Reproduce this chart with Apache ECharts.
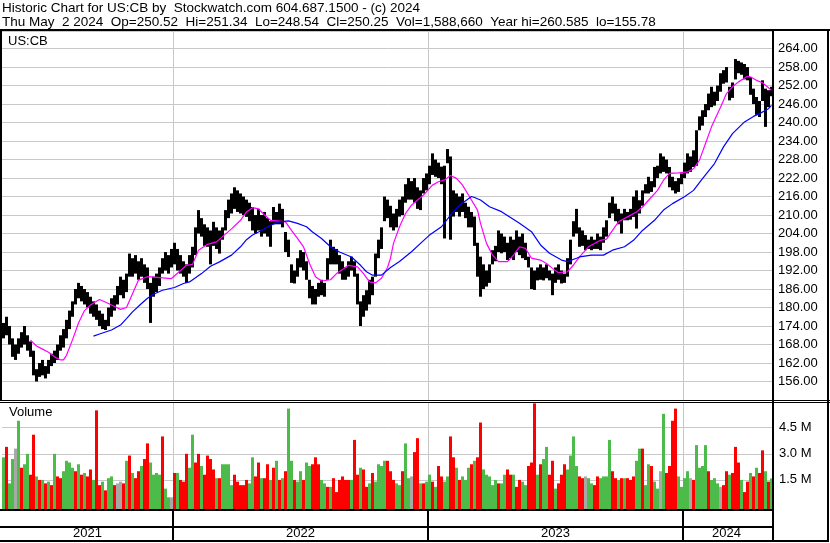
<!DOCTYPE html>
<html><head><meta charset="utf-8">
<script src="https://cdn.jsdelivr.net/npm/echarts@6/dist/echarts.min.js"></script>
<style>html,body{margin:0;padding:0;background:#fff}#c{width:830px;height:543px}</style>
</head><body><div id="c"></div>
<script>
// ---------- text ----------
const titleLine1 = 'Historic Chart for US:CB by  Stockwatch.com 604.687.1500 - (c) 2024';
const titleLine2 = 'Thu May  2 2024  Op=250.52  Hi=251.34  Lo=248.54  Cl=250.25  Vol=1,588,660  Year hi=260.585  lo=155.78';
const symbolLabel = 'US:CB';
const volumeLabel = 'Volume';

// ---------- x categories (one sample ≈ 3 trading days) ----------
const yearLabels = ['2021', '2022', '2023', '2024'];
const samplesPerYear = [57, 85, 85, 30];

// ---------- price range per sample ----------
const highs = [
175,177,174,170,168,170,172,174,171,169,
166,160,162,163,161,163,165,166,168,171,
173,176,179,182,186,188,187,186,185,183.5,
182,181,179,178,176,180,183,184,187,190,
189,191,197.5,196,197,195,196,194,193,188,
190,191,193,196,198,197,199,201,199,197,
195,194,197,199.7,206,211.6,209,207,206,205,
207.8,206,205,206,211.6,215,217,219,218,217,
216,215,214,212.6,210,212,210,211,209,208,
212.6,211,213.7,212,204.5,202,194,192,196,198.6,
198,195,189,187,186,188,189,188,196,202,
199.7,199,197,195,193,195,196.5,195,191,182,
184,185.6,189,190,197.5,202,206,216,215,213,
210.5,212,215,216,220,222,221,222,219,218,
222,223.5,226,230,228,227,225.7,226,231.4,229,
218,217,216,217,214,212.7,211,209.5,201,196.5,
194,192,194,198.6,200,205,204,203,201,203,
202,205,203,204,201,196.5,193,192,193,194,
193,194,192,191,193,194,192,191,196,202,
208,212,206,205,203.5,202,203,202,204,203,
206,208.3,214,216,213.7,212,210.5,212,211,212,
216,218,214.8,218,220,222.4,221,225.6,226,230,
229,228,225.6,222.4,221,222,223.5,227,230,229,
231,237.5,242,244,246,249.4,251.6,250,252,256,
257,258,251.6,253,260.6,260,259.5,259,258,254.8,
251,248.3,247,253.7,251,250.5,251.6];
const lows = [
170,171,168,164,163,165,167,168,166,164,
158,156,157.5,158,157,158.5,161,162,163,166,
167,170,173,177,181,183,182,181,180,178,
177,176,174,173,172.7,174,177,179,181,184,
183,185,190,190,191,189,190,188,186,175,
183.5,185,187,191,192,191,193,194,192,191,
190,188,191,193,197,204,203,200,199.7,194,
200,199,197.5,202,205,209,210.5,212,211,210.5,
210,209.4,208,205,204,205,203,204,203,199.7,
207,207,207,206,198,196.4,188,187.8,190,193,
192,189,183,181,181,183.5,184,183.5,189,194,
194,194,191,189,189,190,192,190,181,174,
177,179,181,184,190,196,199,208,209,206,
205,206,209.5,210,214,215,215,214,212,211.6,
217,218,220,223,222.4,222,220,202.4,226.8,202,
209.5,211,209.5,211,209,206,206,200,190,183.5,
186,186.8,188,194,195,198,197.6,198,195.4,196,
195.4,198,197,196,195.4,193,186,185.7,188.8,189,
188.8,189.5,188.8,184,188,189,187.8,188,190,194,
203,204,199.7,200,198.6,199,198.6,199,199,198.6,
201,203,209,210.5,208,207,204,208.3,208.3,208.5,
209.4,205.6,210.5,213,217,217,217.5,219,222,223.5,
224,223.5,219,218,217,217.5,220,222,223.5,224,
225.6,226,237.5,239,241.8,244,245,245.5,247,250,
252.6,253,247.2,248,254,256,255.5,254,253.7,249,
246,242.5,241.8,247,238.6,245,248.54];

// ---------- moving averages: [sample index, value] ----------
const maShort = [
[9,169.4],[11,167.5],[13,166.5],[15,165.5],[17,164],[19,163],[20,163],[21,164.5],[23,169.5],[25,175],[27,179],[29,180.8],
[32,182.6],[35,181.3],[39,179.4],[41,180],[43,184.5],[45,188.9],[48,190],[52,189.7],[56,189.4],[59,192],[61,193.7],[63,194],
[65,198.6],[68,200.5],[71,201.3],[73,203],[76,205.5],[79,208.3],[81,211],[83,212.4],[85,212],[87,210],[89,208.3],[92,208],
[94,207.8],[96,205],[98,202.4],[100,199.7],[102,194.3],[104,190],[106,188.6],[109,189],[111,191],[113,192.3],[115,193.7],
[118,193.2],[120,191],[122,188.3],[124,188],[126,189.5],[128,193],[129,196],[130,200.8],[132,206.2],[134,210.5],[136,213.2],
[140,216.5],[143,219.7],[145,220.8],[147,221.4],[149,222.8],[151,221.9],[153,219.7],[155,216.5],[158,211.6],[159,207.3],
[161,200.8],[163,197],[165,194.9],[168,194.9],[170,197],[172,199.7],[174,199.2],[176,196],[179,195.4],[181,194.3],[183,192.7],
[185,191.3],[188,191.6],[190,193.8],[192,196.4],[195,199.7],[199,201.8],[201,202.2],[203,205],[205,207.8],[208,209.4],[211,211],
[213,212.6],[215,214.8],[218,218],[220,221.3],[222,223.5],[225,223.7],[228,224],[230,225],[232,227.8],[234,233.2],[236,238.6],
[239,245],[241,249.4],[243,251.6],[245,253.2],[248,255],[249,254.8],[251,253.7],[253,252.9],[256,250.5]];
const maLong = [
[30,170.7],[32,171.4],[36,172.7],[39,174.3],[41,176.4],[43,178.6],[46,181.3],[48,183],[50,184.3],[53,185.6],[57,186.5],
[60,187.8],[62,188.3],[66,191],[69,193.4],[72,194.8],[76,197],[79,199.7],[81,202],[83,203.5],[86,205],[89,206.7],[92,207.8],
[95,208.1],[98,207.3],[101,206.2],[103,204.5],[106,202.4],[109,199.7],[112,198],[116,196.4],[119,193.7],[121,191.6],[123,190.5],
[126,190.5],[129,193],[132,194.9],[136,198.1],[139,200.8],[142,203.5],[146,206.2],[149,210],[152,213.2],[156,216],[157,215.7],
[159,214.9],[162,212.7],[166,211.1],[169,209.2],[172,207.3],[176,204.6],[179,200.3],[182,197.6],[186,195.4],[188,194.9],
[191,196],[192,196.4],[196,197],[200,197],[203,198.6],[207,199.7],[210,201.8],[213,205],[217,208.3],[220,211.6],[223,213.7],
[227,215.9],[230,218],[233,221.8],[237,226.7],[240,232.1],[243,236.4],[247,240.2],[250,242],[252,242.9],[255,244.5],[256,245.6]];

// ---------- volume (millions) and direction (1 up, -1 down, 0 unchanged) ----------
const volumes = [
2.8,3.4,1.3,2.7,3.3,4.9,2.2,2.4,3.0,1.8,
4.1,1.7,1.5,1.5,1.3,1.4,1.2,3.0,1.7,1.6,
2.0,2.6,2.5,2.2,2.0,2.4,1.8,1.9,1.7,2.1,
1.5,5.5,1.2,1.4,0.9,1.6,1.7,1.2,1.3,1.4,
1.3,2.6,2.9,1.9,1.6,2.0,2.3,2.7,3.6,2.5,
1.8,1.9,1.8,4.0,1.0,0.5,0.5,1.9,1.9,1.5,
1.4,3.0,2.2,4.1,2.5,3.0,2.3,1.8,2.9,2.7,
2.1,1.6,1.6,2.4,2.4,2.4,1.2,1.8,1.4,1.2,
1.2,1.5,1.3,2.8,1.7,2.5,1.6,1.6,2.4,1.5,
2.2,2.6,1.5,1.6,2.0,5.6,2.6,1.5,1.4,2.0,
1.5,2.5,2.3,2.4,2.8,2.4,1.5,1.3,1.1,1.1,
1.6,0.8,1.5,1.7,1.5,1.5,1.5,3.8,1.8,2.2,
2.1,1.1,1.3,1.9,1.4,2.4,2.3,2.6,2.6,2.0,
1.5,1.3,1.2,2.0,3.6,1.6,1.7,3.1,3.9,1.3,
1.3,1.4,1.8,1.4,1.1,2.3,1.7,1.4,1.7,4.0,
2.8,2.2,1.5,1.7,1.5,2.2,2.4,2.6,2.8,4.8,
2.1,1.8,1.7,1.2,1.5,1.3,1.3,1.8,2.1,1.8,
1.8,1.1,1.5,1.4,1.2,2.3,2.5,5.9,1.8,2.4,
2.7,3.4,1.8,2.6,1.0,1.3,1.8,2.4,2.1,2.9,
4.0,2.3,1.7,1.6,1.7,1.6,1.3,1.2,1.7,1.6,
1.7,1.7,3.8,2.0,1.6,1.5,1.6,1.6,1.6,1.5,
1.7,2.6,3.3,3.3,1.2,2.4,2.3,1.4,1.0,2.0,
5.3,1.9,2.3,4.9,5.6,1.7,1.1,1.6,2.0,1.6,
1.5,3.5,2.2,2.3,3.5,2.0,1.5,1.6,1.3,1.1,
1.2,2.0,1.8,1.9,3.4,2.5,1.5,0.8,1.4,1.9,
1.7,2.2,1.9,3.2,2.0,1.4,1.59];
const volumeDir = [
1,-1,1,1,0,1,-1,1,1,-1,
-1,1,-1,1,-1,1,-1,1,-1,-1,
1,1,1,1,-1,1,-1,1,-1,-1,
1,-1,-1,1,-1,1,1,-1,0,0,
-1,1,-1,1,-1,-1,1,-1,-1,1,
1,1,1,-1,1,1,0,-1,1,-1,
-1,-1,1,1,-1,-1,1,-1,-1,-1,
-1,1,-1,1,1,1,1,-1,-1,-1,
-1,-1,1,1,-1,-1,1,-1,-1,1,
-1,1,-1,1,-1,1,1,-1,1,1,
-1,1,1,-1,-1,-1,1,1,-1,1,
-1,-1,-1,-1,-1,-1,1,-1,-1,1,
-1,-1,1,-1,1,1,1,1,-1,-1,
-1,1,1,-1,1,1,0,-1,-1,1,
-1,1,1,-1,1,-1,-1,1,1,-1,
-1,1,-1,1,1,1,-1,1,-1,-1,
1,1,1,1,1,-1,1,1,-1,-1,
1,-1,-1,1,1,-1,-1,-1,1,-1,
1,1,-1,-1,1,-1,-1,-1,1,1,
1,1,-1,-1,0,1,1,-1,-1,1,
1,1,1,-1,-1,1,-1,1,-1,-1,
-1,1,1,-1,1,1,-1,1,1,0,
1,-1,-1,-1,-1,1,1,1,1,0,
-1,1,1,1,1,-1,1,1,1,0,
-1,-1,1,-1,-1,-1,1,-1,-1,1,
-1,1,-1,-1,1,-1,1];

// ---------- build ----------
const FONT = '"Liberation Sans", Arial, sans-serif';
const categories = [];
const yearStart = [];
yearLabels.forEach((y, k) => {
  yearStart.push(categories.length);
  for (let j = 0; j < samplesPerYear[k]; j++) categories.push(y + '#' + j);
});
const yearMid = yearLabels.map((y, k) => yearStart[k] + Math.floor((samplesPerYear[k] - 1) / 2));
const isBoundary = (idx) => yearStart.indexOf(idx) > 0;

const priceData = highs.map((h, i) => [i, h, lows[i]]);
const volData = volumes.map((v, i) => [i, v, volumeDir[i]]);
const volColor = { '1': '#4dbb4a', '-1': '#ff0000', '0': '#a8a8a8' };

const chart = echarts.init(document.getElementById('c'), null, { renderer: 'canvas' });

function xAxisFor(gridIndex, extra) {
  return Object.assign({
    type: 'category', gridIndex, data: categories, boundaryGap: true,
    axisLine: { show: false }, axisTick: { show: false }, axisLabel: { show: false },
    splitLine: { show: true, interval: isBoundary, lineStyle: { color: '#c8c8c8', width: 1 } }
  }, extra || {});
}
const txt = { color: '#000', fontSize: 13, fontFamily: FONT, fontWeight: 'normal' };
const headTxt = Object.assign({}, txt, { fontSize: 13.5 });
const border = (x, y, w, h) => ({ type: 'rect', z: 100, silent: true, shape: { x, y, width: w, height: h }, style: { fill: '#000' } });

chart.setOption({
  animation: false,
  backgroundColor: '#fff',
  textStyle: { fontFamily: FONT },
  title: [
    { text: titleLine1, left: 2, top: 1, padding: 0, textStyle: headTxt },
    { text: titleLine2, left: 2, top: 15, padding: 0, textStyle: headTxt },
    { text: symbolLabel, left: 8, top: 35, padding: 0, textStyle: txt },
    { text: volumeLabel, left: 9, top: 406, padding: 0, textStyle: txt }
  ],
  grid: [
    { left: 2, top: 31, width: 771, height: 369 },
    { left: 2, top: 402, width: 771, height: 104 },
    { left: 2, top: 511, width: 771, height: 30 }
  ],
  xAxis: [
    xAxisFor(0),
    xAxisFor(1),
    xAxisFor(2, {
      axisLabel: { show: true, inside: true, margin: 1, interval: (idx) => yearMid.indexOf(idx) >= 0,
        formatter: (v) => v.slice(0, 4), color: '#000', fontSize: 13, fontFamily: FONT },
      splitLine: { show: true, interval: isBoundary, lineStyle: { color: '#000', width: 2 } }
    })
  ],
  yAxis: [
    { type: 'value', gridIndex: 0, position: 'right', min: 150, max: 269.7, interval: 6,
      axisLine: { show: false }, axisTick: { show: false },
      axisLabel: { color: '#000', fontSize: 13, fontFamily: FONT, margin: 5, showMinLabel: false, showMaxLabel: false,
        formatter: (v) => v.toFixed(2) },
      splitLine: { lineStyle: { color: '#c8c8c8', width: 1 } } },
    { type: 'value', gridIndex: 1, position: 'right', min: 0, max: 5.98, interval: 1.5,
      axisLine: { show: false }, axisTick: { show: false },
      axisLabel: { color: '#000', fontSize: 13, fontFamily: FONT, margin: 6, showMinLabel: false, showMaxLabel: false,
        formatter: (v) => v.toFixed(1) + ' M' },
      splitLine: { lineStyle: { color: '#c8c8c8', width: 1 } } },
    { type: 'value', gridIndex: 2, show: false, min: 0, max: 1 }
  ],
  series: [
    { type: 'custom', name: 'Price', xAxisIndex: 0, yAxisIndex: 0, data: priceData,
      encode: { x: 0, y: [1, 2] },
      renderItem: (params, api) => {
        const i = api.value(0);
        const top = api.coord([i, api.value(1)]);
        const bot = api.coord([i, api.value(2)]);
        const w = api.size([1, 0])[0];
        return { type: 'rect', shape: { x: top[0] - w / 2, y: top[1], width: w, height: Math.max(1, bot[1] - top[1]) },
          style: { fill: '#000' } };
      } },
    { type: 'line', name: 'MA short', xAxisIndex: 0, yAxisIndex: 0, data: maShort, showSymbol: false,
      lineStyle: { color: '#ff00ff', width: 1.2 }, z: 5 },
    { type: 'line', name: 'MA long', xAxisIndex: 0, yAxisIndex: 0, data: maLong, showSymbol: false,
      lineStyle: { color: '#0000ff', width: 1.2 }, z: 5 },
    { type: 'custom', name: 'Volume', xAxisIndex: 1, yAxisIndex: 1, data: volData,
      encode: { x: 0, y: 1 },
      renderItem: (params, api) => {
        const i = api.value(0);
        const top = api.coord([i, api.value(1)]);
        const w = api.size([1, 0])[0];
        const floor = params.coordSys.y + params.coordSys.height + 3;
        return { type: 'rect', shape: { x: top[0] - w / 2, y: top[1], width: w, height: floor - top[1] },
          style: { fill: volColor[String(api.value(2))] } };
      } }
  ],
  graphic: [
    border(0, 29, 830, 2),
    border(0, 29, 2, 371),
    border(0, 400, 830, 1),
    border(0, 402, 830, 1),
    border(772, 29, 2, 513),
    border(827, 29, 2, 513),
    border(0, 509, 774, 2),
    border(0, 526, 774, 2),
    border(0, 540, 829, 2)
  ]
});
</script></body></html>
